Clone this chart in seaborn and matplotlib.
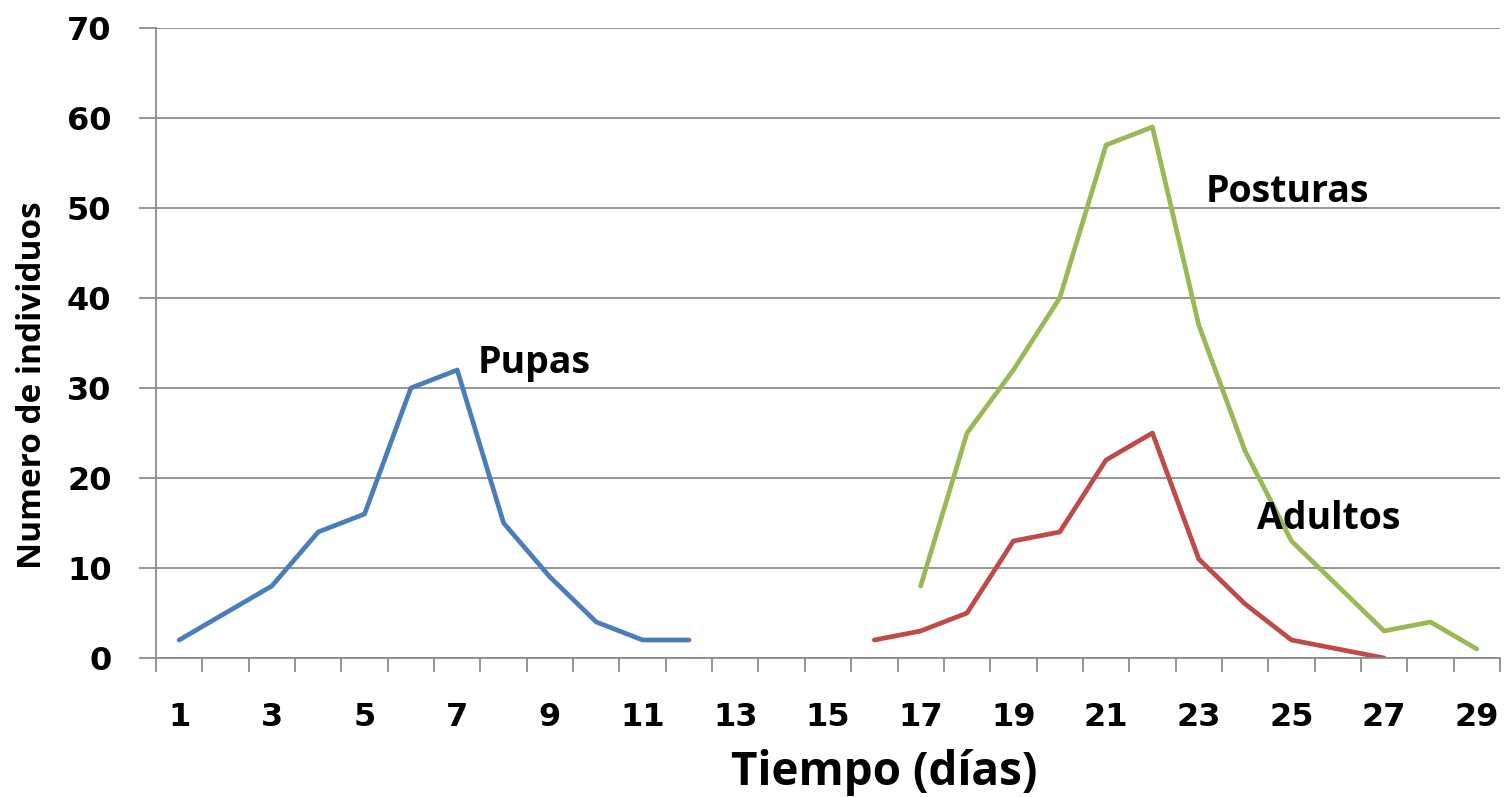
import numpy as np
import pandas as pd
import matplotlib
matplotlib.use("Agg")
import matplotlib.pyplot as plt
import seaborn as sns

# -----------------------------
# Data
# -----------------------------
pupas_days = list(range(1, 13))
pupas_vals = [2, 5, 8, 14, 16, 30, 32, 15, 9, 4, 2, 2]

adultos_days = list(range(16, 28))
adultos_vals = [2, 3, 5, 13, 14, 22, 25, 11, 6, 2, 1, 0]

posturas_days = list(range(17, 30))
posturas_vals = [8, 25, 32, 40, 57, 59, 37, 23, 13, 8, 3, 4, 1]

x_tick_days = list(range(1, 30, 2))
y_ticks = list(range(0, 80, 10))

series_colors = {"Pupas": "#4A7EBB", "Adultos": "#BE4B48", "Posturas": "#98B954"}

df = pd.concat([
    pd.DataFrame({"dia": pupas_days, "n": pupas_vals, "serie": "Pupas"}),
    pd.DataFrame({"dia": adultos_days, "n": adultos_vals, "serie": "Adultos"}),
    pd.DataFrame({"dia": posturas_days, "n": posturas_vals, "serie": "Posturas"}),
], ignore_index=True)

# -----------------------------
# Plot
# -----------------------------
sns.set_theme(style="white")
plt.rcParams["font.family"] = ["DejaVu Sans"]
plt.rcParams["text.color"] = "black"
plt.rcParams["xtick.color"] = "black"
plt.rcParams["ytick.color"] = "black"

fig = plt.figure(figsize=(15.04, 7.97), dpi=100)
ax = fig.add_axes([156 / 1504, 139 / 797, 1344 / 1504, 630 / 797])

sns.lineplot(data=df, x="dia", y="n", hue="serie", palette=series_colors,
             linewidth=3.4, legend=False, ax=ax)

grid_c = "#8C8C8C"
ax.set_xlim(0.5, 29.5)
ax.set_ylim(0, 70)
ax.set_yticks(y_ticks)
ax.yaxis.grid(True, color=grid_c, linewidth=1.3)
ax.set_axisbelow(True)
for s in ["top", "right"]:
    ax.spines[s].set_visible(False)
for s in ["left", "bottom"]:
    ax.spines[s].set_color(grid_c)
    ax.spines[s].set_linewidth(1.3)

ax.set_xticks(x_tick_days)
ax.set_xticks(np.arange(0.5, 30, 1), minor=True)
ax.tick_params(bottom=True, left=True)
ax.tick_params(axis="x", which="major", length=0, pad=32, labelsize=23,
               labelcolor="black")
ax.tick_params(axis="x", which="minor", bottom=True, length=10, width=1.3,
               color=grid_c, direction="out")
ax.tick_params(axis="y", which="major", length=12, width=1.3, color=grid_c,
               direction="out", pad=20, labelsize=23, labelcolor="black")
for lab in ax.get_xticklabels() + ax.get_yticklabels():
    lab.set_fontweight("bold")

ax.set_xlabel("")
ax.set_ylabel("")

fig.text(33 / 1504, 1 - 385 / 797, "Numero de individuos", rotation=90,
         ha="center", va="center", family=["Open Sans", "DejaVu Sans"],
         fontweight="bold", fontsize=24, color="black")
fig.text(884 / 1504, 1 - 772 / 797, "Tiempo (días)", ha="center", va="center",
         family=["Open Sans", "DejaVu Sans"], fontweight="bold", fontsize=33,
         color="black")

ann_font = dict(family=["Open Sans", "DejaVu Sans"], fontweight="bold", fontsize=27,
                ha="left", va="baseline", color="black")
ax.text(7.44, 31.7, "Pupas", **ann_font)
ax.text(23.15, 50.7, "Posturas", **ann_font)
ax.text(24.25, 14.3, "Adultos", **ann_font)

fig.savefig("out.png", dpi=100)
plt.close(fig)
